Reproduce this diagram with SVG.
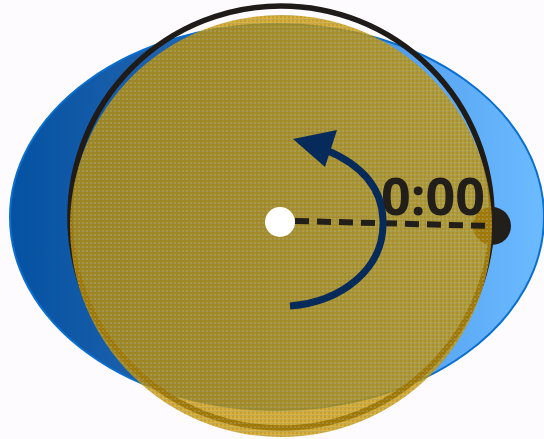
<svg xmlns="http://www.w3.org/2000/svg" width="544" height="439" viewBox="0 0 544 439">
<defs>
<linearGradient id="blueGrad" x1="0" y1="0" x2="1" y2="0">
<stop offset="0" stop-color="#0452a2"/>
<stop offset="0.4" stop-color="#2a68b2"/>
<stop offset="0.8" stop-color="#5aa8f4"/>
<stop offset="1" stop-color="#6cbaff"/>
</linearGradient>
<pattern id="goldPat" width="4" height="4" patternUnits="userSpaceOnUse">
<rect width="4" height="4" fill="#c89600" fill-opacity="0.74"/>
<rect x="0" y="0" width="2" height="2" fill="#a88010" fill-opacity="0.35"/>
<rect x="2" y="2" width="2" height="2" fill="#e8c040" fill-opacity="0.3"/>
<rect x="0" y="3" width="4" height="1" fill="#7f8a8a" fill-opacity="0.25"/>
</pattern>
<style>
.ink{fill:#221e1a}
.dash{stroke:#221e1a;stroke-width:6;stroke-dasharray:14 8;fill:none}
.lbl{font-family:"Open Sans","Noto Sans",sans-serif;font-weight:bold;font-size:52px;fill:#221e1a}
</style>
</defs>
<rect width="544" height="439" fill="#fdfbfd"/>
<g id="orbit">
<ellipse cx="277" cy="217" rx="267" ry="193" fill="url(#blueGrad)" stroke="#0a6fcf" stroke-width="2"/>
</g>
<g id="ring">
<circle cx="281" cy="217" r="211" fill="none" stroke="#1f1b18" stroke-width="5.5"/>
</g>
<g id="endpoint">
<circle cx="492" cy="226" r="19" class="ink"/>
</g>
<g id="disc">
<circle cx="281" cy="226" r="211" fill="url(#goldPat)"/>
</g>
<g id="connectors">
<line x1="295" y1="221" x2="492" y2="226" class="dash"/>
<path d="M290,306 C340,302 385,270 383,220 C382,188 362,165 326,150" fill="none" stroke="#062a5a" stroke-width="7"/>
<polygon points="293,139 337,130 325,167" fill="#062a5a"/>
</g>
<g id="center">
<circle cx="280" cy="222" r="15" fill="#ffffff"/>
</g>
<g id="label">
<text x="381" y="215" class="lbl">0:00</text>
</g>
</svg>
